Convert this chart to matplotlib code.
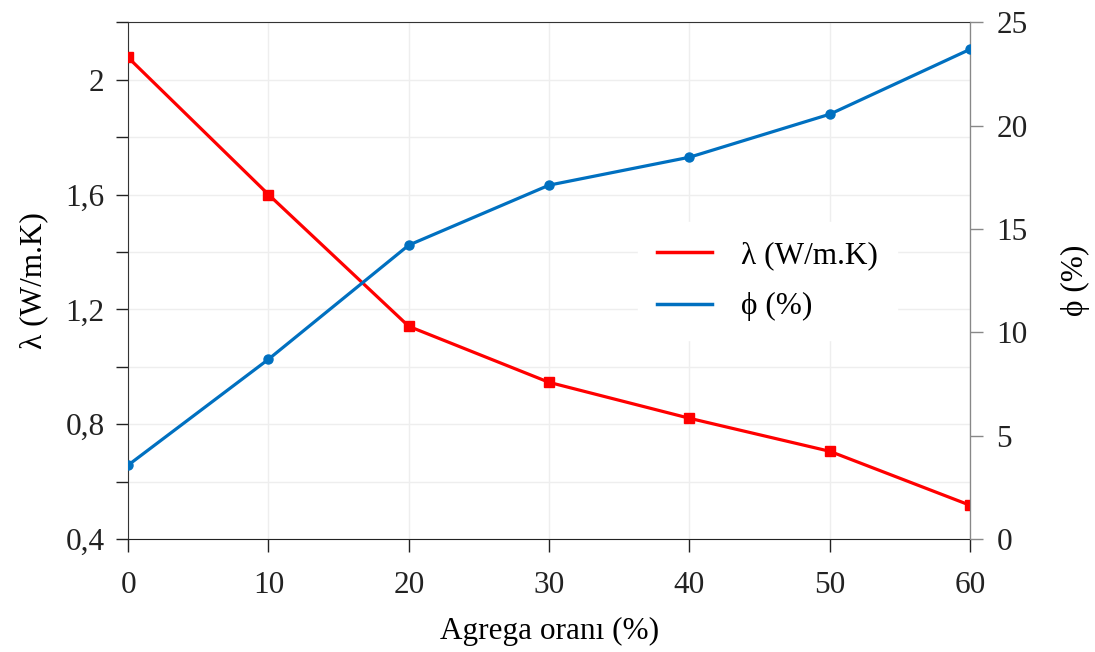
import matplotlib
matplotlib.use("Agg")
import matplotlib.pyplot as plt
from matplotlib.ticker import MultipleLocator, FuncFormatter
from matplotlib.lines import Line2D

plt.rcParams['font.family'] = ['Liberation Serif', 'DejaVu Serif']

# data
agrega = [0, 10, 20, 30, 40, 50, 60]
lam = [2.077, 1.60, 1.141, 0.946, 0.821, 0.706, 0.518]
phi = [3.58, 8.70, 14.22, 17.12, 18.47, 20.55, 23.69]

red = '#FF0000'
blue = '#0070C0'
fs = 22.5

fig = plt.figure(figsize=(10.95, 6.52), dpi=100)
ax = fig.add_axes([0.117, 0.173, 0.769, 0.793])
ax2 = ax.twinx()

ax.plot(agrega, lam, color=red, lw=2.3, marker='s', ms=7, zorder=3)
ax2.plot(agrega, phi, color=blue, lw=2.3, marker='o', ms=6.5, zorder=3)

ax.set_xlim(0, 60)
ax.set_ylim(0.4, 2.2)
ax2.set_ylim(0, 25)

ax.xaxis.set_major_locator(MultipleLocator(10))
ax.yaxis.set_major_locator(MultipleLocator(0.4))
ax.yaxis.set_minor_locator(MultipleLocator(0.2))
ax2.yaxis.set_major_locator(MultipleLocator(5))


def comma(v, pos):
    s = f'{v:.1f}'
    if s.endswith('.0'):
        s = s[:-2]
    return s.replace('.', ',')


ax.yaxis.set_major_formatter(FuncFormatter(comma))

# faint grid
ax.grid(True, which='both', axis='y', color='#EEEEEE', lw=1)
ax.grid(True, which='major', axis='x', color='#EEEEEE', lw=1)
ax.set_axisbelow(True)

for a in (ax, ax2):
    a.tick_params(which='both', direction='out', length=9, width=1,
                  labelsize=fs, colors='#222222', pad=8)
ax.tick_params(axis='x', pad=14)
ax2.tick_params(axis='y', pad=10)
ax2.tick_params(axis='y', which='major', color='#888888')

ax.spines['left'].set_color('#333333')
ax.spines['bottom'].set_color('#222222')
ax.spines['top'].set_color('#333333')
ax2.spines['right'].set_color('#888888')
for s in ('left', 'bottom', 'top'):
    ax2.spines[s].set_visible(False)

ax.set_xlabel('Agrega oranı (%)', fontsize=fs, labelpad=12)
ax.set_ylabel('λ (W/m.K)', fontsize=fs, labelpad=12)
ax2.set_ylabel('ϕ (%)', fontsize=fs, labelpad=24)

handles = [Line2D([], [], color=red, lw=2.5), Line2D([], [], color=blue, lw=2.5)]
leg = ax2.legend(handles, ['λ (W/m.K)', 'ϕ (%)'], loc='center left',
                 bbox_to_anchor=(0.606, 0.499), fontsize=fs, frameon=True,
                 handlelength=1.76, handletextpad=0.93, labelspacing=0.72,
                 borderpad=0.6, borderaxespad=0)
leg.get_frame().set_edgecolor('white')
leg.get_frame().set_facecolor('white')
leg.get_frame().set_alpha(1)

fig.savefig('out.png', dpi=100)
